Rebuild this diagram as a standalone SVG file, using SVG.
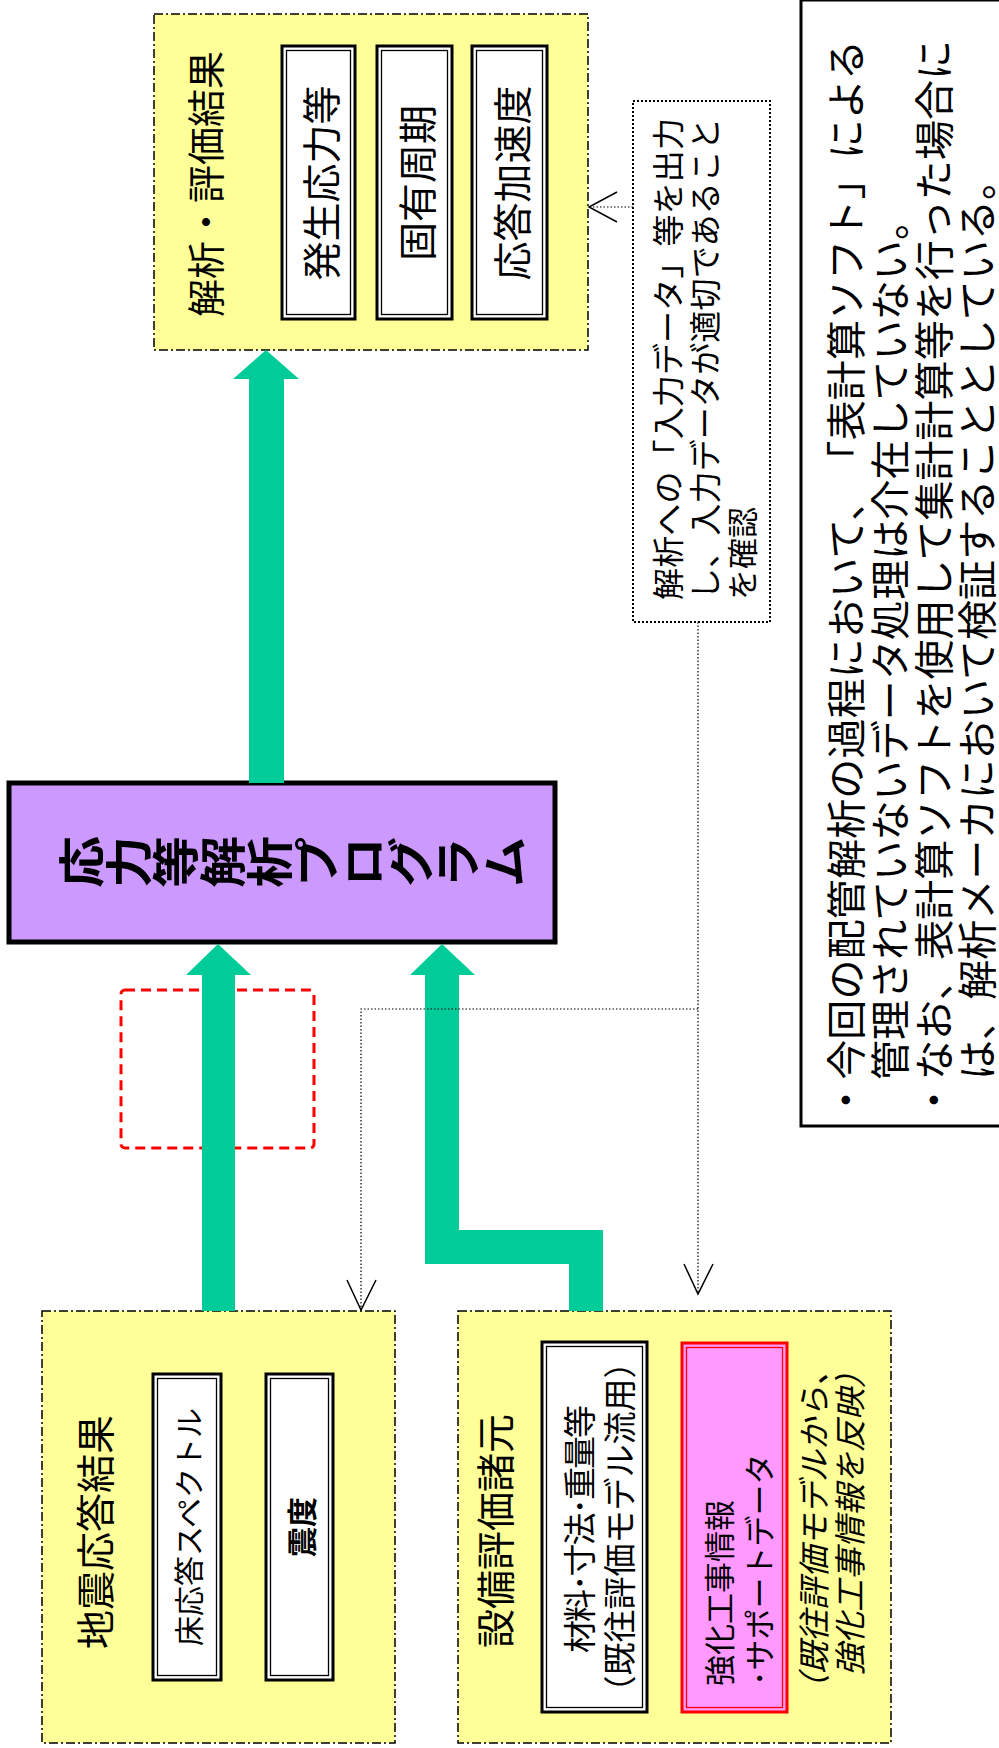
<svg xmlns="http://www.w3.org/2000/svg" width="999" height="1748" viewBox="0 0 999 1748">
<defs>
<style>
text{font-family:"Noto Sans CJK JP","Noto Sans",sans-serif;fill:#000;dominant-baseline:central;text-spacing-trim:space-all}
.grp{fill:#ffff99;stroke:#000;stroke-width:1.5;stroke-dasharray:9,3,2,3}
.wb{fill:#fff;stroke:#000;stroke-width:3}
.wi{fill:none;stroke:#000;stroke-width:1.3}
.pb{fill:#ff99ff;stroke:#ff0000;stroke-width:3}
.pi{fill:none;stroke:#ff0000;stroke-width:1.3}
.green{fill:#00cc99;stroke:none}
.dot{fill:none;stroke:#000;stroke-width:1.2;stroke-dasharray:1.5,2}
.vee{fill:none;stroke:#000;stroke-width:1.5}
.t39{font-size:39px}
.t38{font-size:38px}
.t33{font-size:33px}
.t32{font-size:32px}
.t31{font-size:31px}
.t30{font-size:30px}
.t40{font-size:40px}
</style>
</defs>
<rect width="999" height="1748" fill="#fff"/>

<g id="results">
<rect class="grp" x="154" y="14" width="434" height="336"/>
<text class="t38" text-anchor="middle" transform="translate(203,184) rotate(-90)">解析・評価結果</text>
<g id="stress">
<rect class="wb" x="282" y="46" width="73" height="273"/>
<rect class="wi" x="286.5" y="50.5" width="64" height="264"/>
<text class="t39" text-anchor="middle" transform="translate(318.5,183) rotate(-90)">発生応力等</text>
</g>
<g id="period">
<rect class="wb" x="377" y="46" width="75" height="273"/>
<rect class="wi" x="381.5" y="50.5" width="66" height="264"/>
<text class="t39" text-anchor="middle" transform="translate(414.5,183) rotate(-90)">固有周期</text>
</g>
<g id="accel">
<rect class="wb" x="472" y="46" width="75" height="273"/>
<rect class="wi" x="476.5" y="50.5" width="66" height="264"/>
<text class="t39" text-anchor="middle" transform="translate(509.5,183) rotate(-90)">応答加速度</text>
</g>
</g>

<g id="check-note">
<rect x="633" y="101" width="137" height="521" fill="#fff" stroke="#000" stroke-width="2" stroke-dasharray="2,2"/>
<text class="t32" textLength="482" transform="translate(666,600) rotate(-90)">解析への「入力データ」等を出力</text>
<text class="t32" textLength="482" transform="translate(703,600) rotate(-90)">し、入力データが適切であること</text>
<text class="t31" transform="translate(740,600) rotate(-90)">を確認</text>
</g>

<g id="remarks">
<rect x="801" y="0" width="200" height="1126" fill="#fff" stroke="#000" stroke-width="3"/>
<text class="t40" textLength="1080" transform="translate(844,1120) rotate(-90)">・今回の配管解析の過程において、「表計算ソフト」による</text>
<text class="t40" textLength="880" transform="translate(888,1080) rotate(-90)">管理されていないデータ処理は介在していない。</text>
<text class="t40" textLength="1080" transform="translate(932,1120) rotate(-90)">・なお、表計算ソフトを使用して集計計算等を行った場合に</text>
<text class="t40" textLength="920" transform="translate(975,1080) rotate(-90)">は、解析メーカにおいて検証することとしている。</text>
</g>

<g id="program">
<rect x="9" y="783" width="546" height="159" fill="#cc99ff" stroke="#000" stroke-width="5"/>
<text font-size="47" font-weight="bold" text-anchor="middle" style="writing-mode:vertical-rl" transform="translate(293,862) rotate(-90) scale(1.1,1)">応力等解析プログラム</text>
</g>

<g id="redbox">
<rect x="121" y="990" width="193" height="158" rx="4" fill="none" stroke="#ff0000" stroke-width="3" stroke-dasharray="10,6"/>
</g>

<g id="seismic">
<rect class="grp" x="42" y="1311" width="353" height="432"/>
<text class="t39" text-anchor="middle" transform="translate(93,1532) rotate(-90)">地震応答結果</text>
<g id="floor-spectrum">
<rect class="wb" x="153" y="1374" width="68" height="306"/>
<rect class="wi" x="157.5" y="1378.5" width="59" height="297"/>
<text class="t30" text-anchor="middle" transform="translate(187,1527) rotate(-90)">床応答スペクトル</text>
</g>
<g id="intensity">
<rect class="wb" x="266" y="1374" width="67" height="306"/>
<rect class="wi" x="270.5" y="1378.5" width="58" height="297"/>
<text class="t30" font-weight="bold" text-anchor="middle" transform="translate(299.5,1527) rotate(-90)">震度</text>
</g>
</g>

<g id="equipment">
<rect class="grp" x="458" y="1311" width="433" height="432"/>
<text class="t39" text-anchor="middle" transform="translate(493,1531) rotate(-90)">設備評価諸元</text>
<g id="material">
<rect class="wb" x="542" y="1342" width="105" height="370"/>
<rect class="wi" x="546.5" y="1346.5" width="96" height="361"/>
<text class="t33" text-anchor="middle" textLength="248" transform="translate(578,1529) rotate(-90)">材料･寸法･重量等</text>
<text class="t33" text-anchor="middle" textLength="363" transform="translate(618,1527) rotate(-90)">（既往評価モデル流用）</text>
</g>
<g id="reinforce">
<rect class="pb" x="682" y="1343" width="105" height="369"/>
<rect class="pi" x="686.5" y="1347.5" width="96" height="360"/>
<text class="t31" transform="translate(717,1686) rotate(-90)">強化工事情報</text>
<text class="t31" transform="translate(757,1686) rotate(-90)">･サポートデータ</text>
</g>
<text class="t32" font-style="italic" textLength="352" transform="translate(812,1706) rotate(-90)">（既往評価モデルから、</text>
<text class="t32" font-style="italic" textLength="320" transform="translate(848,1676) rotate(-90)">強化工事情報を反映）</text>
</g>

<g id="connectors">
<polygon class="green" points="249,783 249,379 233,379 266,350 299,379 284,379 284,783"/>
<polygon class="green" points="202,1311 202,975 186,975 218,944 251,975 235,975 235,1311"/>
<polygon class="green" points="569,1311 569,1264 425,1264 425,975 410,975 442,944 475,975 459,975 459,1230 603,1230 603,1311"/>
<path class="dot" d="M633,207 H589"/>
<polyline class="vee" points="617,192 589,207 617,222"/>
<path class="dot" d="M698,622 V1294"/>
<polyline class="vee" points="684,1264 698,1294 713,1264"/>
<path class="dot" d="M698,1009 H361 V1310"/>
<polyline class="vee" points="347,1280 361,1310 376,1280"/>
</g>
</svg>
